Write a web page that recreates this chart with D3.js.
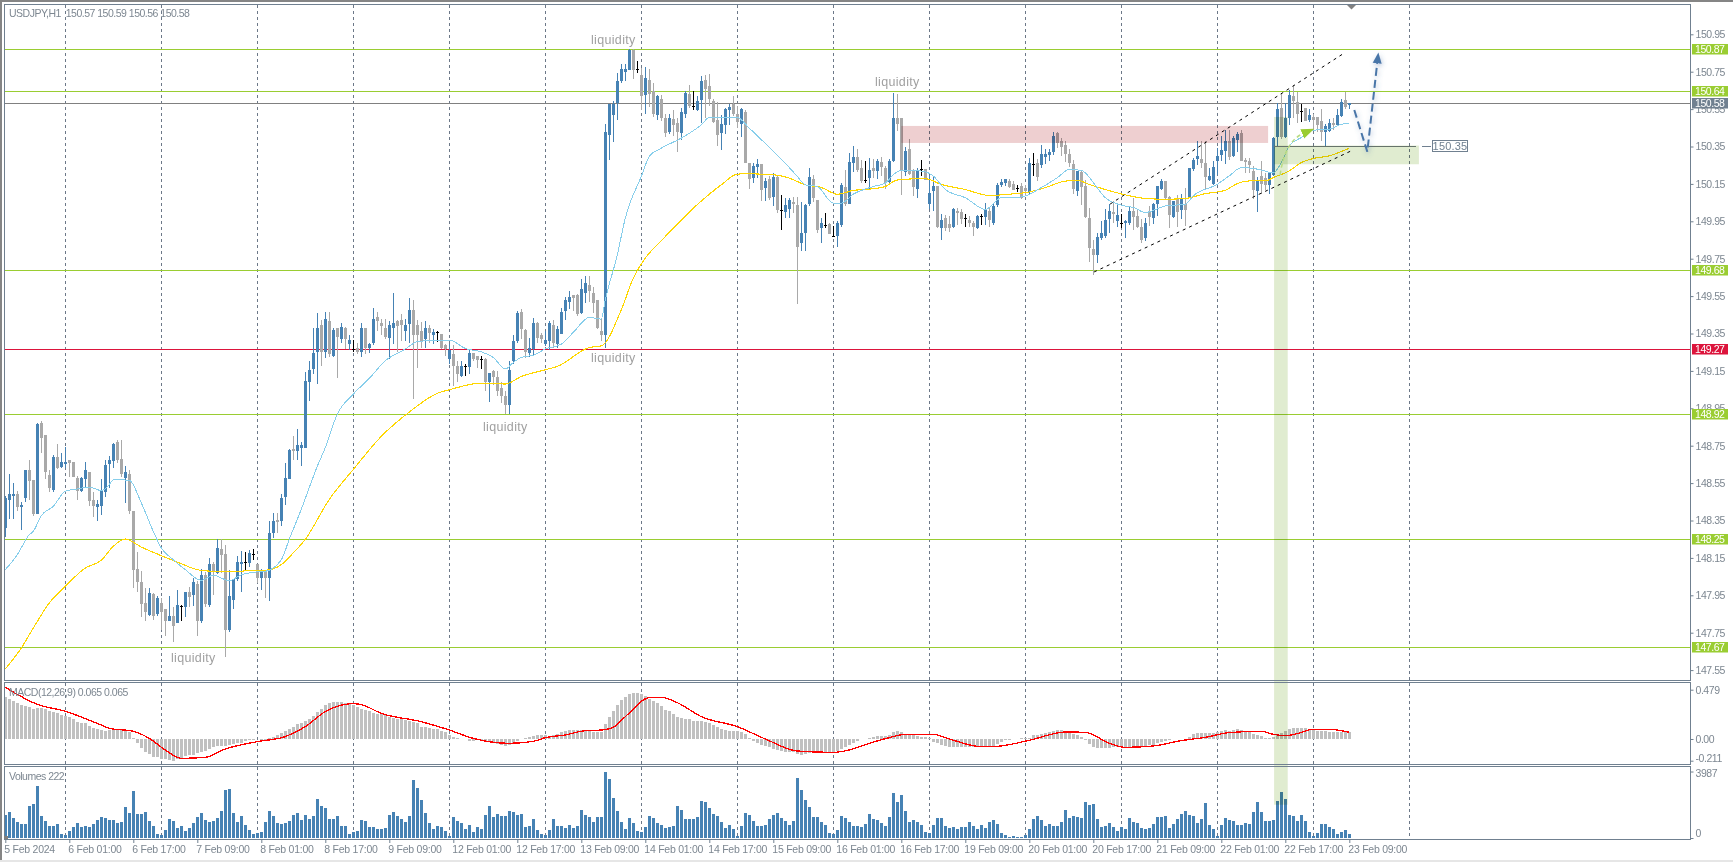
<!DOCTYPE html>
<html><head><meta charset="utf-8">
<script src="https://cdnjs.cloudflare.com/ajax/libs/d3/7.8.5/d3.min.js"></script>
<style>
html,body{margin:0;padding:0;background:#fff;overflow:hidden}
svg{display:block}
text{font-family:"Liberation Sans",Arial,sans-serif}
</style></head><body>
<svg id="c" width="1733" height="862"></svg>
<script>
const opens=[148.31,148.46,148.48,148.49,148.42,148.47,148.62,148.565,148.385,148.87,
148.805,148.595,148.515,148.69,148.635,148.65,148.675,148.665,148.575,148.51,
148.57,148.61,148.46,148.42,148.43,148.50,148.65,148.67,148.77,148.68,
148.575,148.60,148.40,148.09,148.02,147.91,147.845,147.955,147.85,147.91,
147.875,147.81,147.84,147.80,147.893,147.89,147.97,147.95,148.01,147.81,
148.06,147.90,148.115,148.07,148.195,148.17,147.765,147.925,148.035,148.12,
148.127,148.125,148.173,148.115,148.045,148.08,148.045,148.285,148.355,148.35,
148.475,148.57,148.735,148.72,148.74,148.74,149.09,149.16,149.25,149.395,
149.25,149.415,149.23,149.38,149.32,149.38,149.295,149.267,149.275,149.25,
149.38,149.27,149.30,149.44,149.405,149.38,149.325,149.38,149.415,149.42,
149.365,149.40,149.475,149.395,149.365,149.32,149.38,149.34,149.356,149.345,
149.29,149.215,149.24,149.175,149.125,149.177,149.17,149.245,149.23,149.213,
149.215,149.09,149.15,149.12,149.06,149.015,148.965,149.205,149.31,149.465,
149.37,149.245,149.265,149.405,149.34,149.295,149.31,149.395,149.295,149.35,
149.47,149.52,149.555,149.555,149.46,149.565,149.61,149.565,149.53,149.365,
149.34,150.41,150.52,150.58,150.70,150.75,150.76,150.865,150.766,150.735,
150.625,150.705,150.645,150.52,150.605,150.505,150.43,150.495,150.475,150.42,
150.525,150.63,150.564,150.545,150.60,150.705,150.675,150.595,150.49,150.42,
150.465,150.545,150.575,150.525,150.47,150.535,150.26,150.18,150.24,150.255,
150.13,150.175,150.08,150.185,150.012,150.00,150.015,150.055,150.035,149.835,
149.89,150.04,150.175,150.065,149.915,149.931,149.935,149.873,149.87,149.93,
150.135,150.04,150.26,150.295,150.235,150.172,150.18,150.235,150.22,150.265,
150.235,150.16,150.275,150.505,150.505,150.215,150.335,150.22,150.125,150.228,
150.23,150.04,150.11,150.14,149.915,149.965,149.935,149.92,150.005,150.00,
149.965,149.955,149.94,149.915,149.98,149.975,150.005,149.94,150.035,150.145,
150.155,150.165,150.15,150.126,150.14,150.13,150.105,150.254,150.26,150.25,
150.295,150.305,150.32,150.42,150.38,150.36,150.31,150.255,150.11,150.215,
150.14,149.97,149.80,149.77,149.86,149.87,149.96,150.00,149.95,149.942,
149.94,149.94,150.005,149.98,149.92,149.86,150.00,149.965,150.04,150.125,
150.165,150.08,149.975,150.075,150.01,150.045,150.08,150.23,150.285,150.285,
150.26,150.17,150.15,150.275,150.305,150.325,150.38,150.30,150.385,150.42,
150.28,150.275,150.22,150.11,150.19,150.18,150.145,150.195,150.40,150.555,
150.40,150.50,150.62,150.59,150.54,150.555,150.49,150.51,150.51,150.485,
150.43,150.435,150.475,150.465,150.515,150.60,150.57];
const closes=[148.47,148.49,148.49,148.42,148.435,148.62,148.56,148.385,148.865,148.79,
148.61,148.525,148.69,148.63,148.665,148.665,148.66,148.58,148.51,148.575,
148.62,148.455,148.425,148.44,148.515,148.645,148.675,148.76,148.675,148.60,
148.61,148.40,148.085,148.02,147.905,147.86,147.96,147.84,147.935,147.86,
147.81,147.84,147.785,147.90,147.893,147.965,147.94,148.02,147.81,148.06,
147.905,148.115,148.08,148.205,148.165,147.765,147.945,148.035,148.13,148.13,
148.127,148.175,148.173,148.045,148.085,148.04,148.285,148.345,148.34,148.47,
148.575,148.725,148.72,148.755,148.755,149.095,149.155,149.245,149.38,149.25,
149.425,149.24,149.37,149.33,149.385,149.32,149.315,149.267,149.25,149.38,
149.275,149.295,149.425,149.415,149.39,149.33,149.395,149.405,149.39,149.395,
149.395,149.475,149.34,149.34,149.31,149.38,149.355,149.36,149.356,149.27,
149.265,149.26,149.175,149.135,149.175,149.177,149.245,149.215,149.21,149.213,
149.09,149.14,149.12,149.045,149.015,148.97,149.155,149.31,149.46,149.375,
149.25,149.27,149.405,149.325,149.32,149.315,149.405,149.30,149.375,149.465,
149.53,149.545,149.54,149.455,149.59,149.62,149.575,149.515,149.38,149.34,
150.425,150.575,150.575,150.70,150.765,150.765,150.865,150.76,150.766,150.62,
150.715,150.63,150.525,150.62,150.50,150.42,150.505,150.465,150.43,150.535,
150.635,150.565,150.564,150.595,150.70,150.66,150.605,150.48,150.41,150.47,
150.55,150.56,150.525,150.48,150.55,150.26,150.175,150.245,150.255,150.12,
150.165,150.075,150.185,150.01,150.012,150.035,150.065,150.04,149.81,149.885,
150.035,150.185,150.075,149.905,149.94,149.931,149.88,149.873,149.94,150.145,
150.04,150.265,150.295,150.225,150.165,150.172,150.225,150.22,150.275,150.24,
150.155,150.275,150.505,150.47,150.22,150.325,150.205,150.135,150.22,150.228,
150.17,150.10,150.14,149.92,149.955,149.915,149.915,150.015,149.995,149.96,
149.965,149.94,149.92,149.98,149.98,150.015,149.955,150.03,150.145,150.16,
150.175,150.135,150.12,150.126,150.075,150.11,150.26,150.254,150.185,150.31,
150.31,150.32,150.405,150.37,150.345,150.31,150.26,150.125,150.22,150.135,
149.975,149.805,149.77,149.865,149.885,149.955,150.005,149.99,149.985,149.942,
149.95,150.005,149.975,149.92,149.85,149.94,149.975,150.045,150.14,150.165,
150.075,149.985,150.06,150.00,150.075,150.01,150.235,150.28,150.30,150.26,
150.185,150.19,150.24,150.30,150.33,150.38,150.295,150.395,150.415,150.275,
150.265,150.25,150.12,150.165,150.15,150.145,150.21,150.395,150.55,150.40,
150.50,150.625,150.595,150.525,150.54,150.485,150.52,150.49,150.465,150.43,
150.46,150.475,150.465,150.52,150.59,150.56,150.58];
const highs=[148.48,148.60,148.55,148.51,148.45,148.62,148.675,148.565,148.87,148.88,
148.805,148.62,148.70,148.76,148.71,148.745,148.675,148.665,148.59,148.585,
148.665,148.61,148.505,148.46,148.57,148.675,148.695,148.765,148.78,148.78,
148.64,148.62,148.40,148.18,148.08,147.99,147.99,147.96,147.945,147.935,
147.875,147.945,147.89,147.98,147.90,147.965,147.995,148.04,148.025,148.09,
148.075,148.15,148.13,148.25,148.25,148.22,148.085,148.035,148.16,148.185,
148.184,148.19,148.195,148.115,148.09,148.085,148.35,148.39,148.39,148.49,
148.66,148.73,148.80,148.84,148.77,149.145,149.205,149.38,149.46,149.42,
149.465,149.465,149.38,149.38,149.405,149.385,149.34,149.316,149.30,149.405,
149.38,149.30,149.485,149.465,149.425,149.425,149.415,149.565,149.42,149.455,
149.43,149.54,149.53,149.42,149.41,149.415,149.395,149.375,149.365,149.345,
149.295,149.295,149.29,149.205,149.205,149.186,149.26,149.245,149.23,149.231,
149.22,149.14,149.155,149.15,149.09,149.045,149.205,149.34,149.47,149.48,
149.375,149.325,149.435,149.41,149.355,149.365,149.415,149.42,149.39,149.485,
149.545,149.575,149.555,149.56,149.64,149.655,149.66,149.60,149.53,149.43,
150.47,150.575,150.595,150.745,150.79,150.79,150.87,150.87,150.805,150.77,
150.775,150.765,150.69,150.625,150.625,150.525,150.525,150.545,150.50,150.555,
150.645,150.68,150.645,150.62,150.725,150.735,150.74,150.605,150.59,150.52,
150.555,150.575,150.62,150.565,150.555,150.545,150.26,150.26,150.285,150.255,
150.18,150.19,150.21,150.20,150.092,150.075,150.075,150.08,150.08,150.055,
150.04,150.235,150.20,150.065,149.965,149.997,149.94,149.926,149.95,150.155,
150.225,150.315,150.355,150.335,150.28,150.274,150.29,150.285,150.285,150.295,
150.245,150.285,150.635,150.63,150.505,150.35,150.39,150.23,150.235,150.276,
150.23,150.20,150.185,150.14,149.99,149.985,149.98,150.02,150.02,150.015,
149.987,149.98,149.95,149.985,149.99,150.05,150.02,150.045,150.155,150.175,
150.175,150.175,150.165,150.142,150.155,150.145,150.29,150.317,150.285,150.36,
150.335,150.335,150.425,150.425,150.395,150.38,150.335,150.28,150.22,150.22,
150.17,150.02,149.85,149.89,149.95,150.015,150.04,150.06,150.04,149.987,
149.955,150.03,150.075,150.015,149.96,149.97,150.03,150.05,150.14,150.175,
150.165,150.085,150.06,150.09,150.095,150.13,150.235,150.29,150.38,150.38,
150.38,150.235,150.275,150.34,150.405,150.44,150.44,150.405,150.425,150.44,
150.29,150.29,150.245,150.185,150.275,150.21,150.21,150.40,150.585,150.63,
150.585,150.65,150.68,150.64,150.576,150.555,150.55,150.525,150.51,150.55,
150.47,150.495,150.50,150.55,150.605,150.64,150.585];
const lows=[148.26,148.36,148.36,148.40,148.30,148.45,148.46,148.375,148.385,148.71,
148.57,148.50,148.50,148.625,148.63,148.63,148.585,148.58,148.46,148.50,
148.53,148.43,148.37,148.35,148.38,148.475,148.525,148.63,148.66,148.58,
148.445,148.385,147.99,147.965,147.835,147.81,147.84,147.82,147.84,147.765,
147.73,147.81,147.70,147.80,147.81,147.835,147.89,147.895,147.735,147.80,
147.89,147.89,147.95,148.065,148.07,147.62,147.755,147.875,148.025,147.97,
148.087,148.10,148.14,148.015,147.98,147.935,147.92,148.255,148.285,148.32,
148.435,148.57,148.675,148.675,148.64,148.74,148.99,149.135,149.08,149.175,
149.22,149.225,149.225,149.11,149.30,149.265,149.26,149.252,149.24,149.225,
149.24,149.245,149.29,149.365,149.34,149.32,149.215,149.295,149.25,149.31,
149.31,149.30,149.00,149.165,149.275,149.27,149.30,149.295,149.306,149.265,
149.23,149.185,149.07,149.09,149.12,149.124,149.135,149.205,149.165,149.16,
149.045,148.985,149.075,149.015,148.98,148.92,148.92,149.185,149.30,149.32,
149.22,149.225,149.235,149.30,149.30,149.285,149.26,149.275,149.275,149.345,
149.42,149.48,149.47,149.445,149.455,149.515,149.52,149.46,149.375,149.31,
149.275,150.28,150.375,150.49,150.69,150.70,150.76,150.71,150.742,150.545,
150.525,150.56,150.51,150.49,150.485,150.40,150.415,150.405,150.32,150.385,
150.50,150.555,150.547,150.54,150.475,150.50,150.565,150.475,150.355,150.33,
150.415,150.465,150.515,150.45,150.40,150.26,150.125,150.155,150.18,150.06,
150.06,150.065,150.03,149.995,149.903,149.97,149.97,149.995,149.51,149.79,
149.79,150.03,150.055,149.885,149.835,149.914,149.88,149.869,149.81,149.92,
150.03,150.04,150.215,150.215,150.155,150.155,150.125,150.18,150.175,150.19,
150.125,150.145,150.265,150.435,150.09,150.19,150.20,150.085,150.075,150.192,
150.17,150.015,150.005,149.915,149.85,149.90,149.895,149.915,149.93,149.935,
149.919,149.92,149.87,149.91,149.93,149.93,149.92,149.93,150.025,150.135,
150.14,150.13,150.115,150.108,150.07,150.085,150.095,150.19,150.165,150.235,
150.255,150.27,150.305,150.34,150.30,150.265,150.24,150.095,150.085,150.035,
149.965,149.735,149.665,149.725,149.85,149.86,149.89,149.94,149.92,149.912,
149.86,149.93,149.905,149.915,149.835,149.845,149.925,149.935,149.98,150.115,
150.07,149.915,149.97,149.92,149.96,149.925,150.075,150.22,150.25,150.235,
150.12,150.165,150.145,150.195,150.275,150.255,150.28,150.295,150.32,150.275,
150.21,150.21,150.07,150.00,150.095,150.12,150.095,150.19,150.355,150.39,
150.395,150.465,150.50,150.475,150.482,150.485,150.48,150.435,150.425,150.38,
150.355,150.43,150.44,150.465,150.51,150.55,150.55];
const volumes=[1380,1560,1200,980,840,840,1920,2040,3120,1320,
1020,720,720,840,240,180,420,660,900,660,
720,660,840,1080,1260,1200,1080,1080,900,960,
1860,1500,2820,1440,1440,1560,1020,720,240,180,
480,1140,1020,600,720,420,600,900,1260,1500,
1080,960,1020,1200,1620,2880,2940,1500,960,1320,
780,480,240,300,360,960,1620,1320,900,840,
900,1020,1380,1500,1080,1380,1140,1320,2340,1920,
1800,1140,1140,1320,720,720,240,360,420,1080,
1020,660,660,540,540,600,1380,1560,1320,1140,
960,1320,3480,3000,2280,1500,900,540,720,660,
420,120,1260,1020,900,540,780,360,660,540,
1380,1920,1260,1440,1320,1320,1620,1560,1380,1440,
660,720,1140,480,240,180,480,1140,720,720,
600,780,600,720,1680,1380,1260,960,1260,1260,
3987,3540,2400,1620,960,540,1200,900,420,360,
660,1320,1200,900,780,600,660,720,1920,1680,
1140,1140,1140,1260,2220,2160,1800,1440,1320,960,
600,780,540,120,720,1500,1380,1020,720,720,
780,1140,1380,1500,1200,1020,780,1020,3600,2880,
2280,1860,1260,1260,960,780,300,240,480,1320,
1200,960,720,720,660,840,1440,1140,1080,900,
720,1260,2700,2160,2580,1620,960,1080,960,780,
360,300,780,1200,1200,720,600,660,540,660,
660,960,720,540,780,600,960,1080,840,300,
180,60,120,60,60,180,540,1140,1320,1080,
720,840,720,720,960,1680,1200,1320,1260,1200,
2160,1980,2040,1140,660,720,900,660,420,660,
540,1200,960,900,600,540,600,840,1260,1260,
1320,600,840,1140,1440,1620,1380,1320,900,1140,
2100,780,540,120,780,1200,1080,1020,780,780,
900,840,1560,2160,1560,1020,1020,1080,2220,2760,
2340,1380,1320,1020,1380,1020,360,120,300,840,
840,660,540,240,360,480,222];
const macdHist=[.405,.386,.373,.353,.330,.321,.308,.292,.298,.301,
.292,.275,.266,.249,.237,.224,.217,.191,.168,.159,
.152,.130,.107,.094,.087,.081,.087,.087,.091,.087,
.081,.068,.013,-.042,-.084,-.123,-.146,-.172,-.178,-.191,
-.198,-.204,-.211,-.198,-.181,-.165,-.156,-.152,-.139,-.126,
-.117,-.094,-.081,-.068,-.068,-.068,-.062,-.049,-.042,-.036,
-.023,-.013,-.010,-.003,-.010,-.010,.006,.023,.039,.055,
.078,.094,.113,.146,.159,.175,.191,.224,.259,.292,
.334,.353,.360,.360,.356,.353,.350,.334,.308,.288,
.282,.275,.256,.246,.240,.233,.217,.207,.198,.191,
.185,.175,.168,.152,.120,.113,.107,.100,.094,.081,
.065,.039,.023,.006,.001,-.003,-.016,-.019,-.006,-.016,
-.023,-.032,-.042,-.049,-.058,-.071,-.062,-.036,-.016,.001,
.010,.023,.029,.036,.036,.036,.029,.039,.052,.065,
.081,.084,.087,.087,.087,.081,.081,.068,.068,.071,
.146,.214,.275,.330,.376,.411,.437,.447,.447,.434,
.418,.392,.369,.347,.321,.282,.269,.243,.214,.204,
.198,.191,.178,.175,.172,.165,.152,.133,.113,.097,
.087,.081,.075,.075,.068,.049,.006,-.019,-.036,-.055,
-.068,-.081,-.094,-.107,-.117,-.123,-.126,-.130,-.143,-.152,
-.146,-.139,-.130,-.130,-.130,-.130,-.130,-.130,-.117,-.094,
-.075,-.055,-.036,-.016,-.003,-.003,.006,.016,.029,.029,
.029,.039,.068,.075,.068,.049,.039,.036,.029,.023,
.016,.006,-.026,-.042,-.058,-.068,-.075,-.075,-.078,-.081,
-.081,-.081,-.078,-.078,-.071,-.071,-.071,-.071,-.049,-.029,
-.010,-.006,-.003,.003,.006,.010,.010,.036,.042,.049,
.055,.068,.078,.084,.087,.078,.065,.049,.042,.023,
-.010,-.049,-.075,-.087,-.087,-.084,-.084,-.081,-.081,-.081,
-.078,-.081,-.075,-.075,-.075,-.068,-.062,-.055,-.039,-.026,
-.019,-.010,-.003,-.003,-.003,.003,.023,.045,.055,.062,
.062,.055,.062,.068,.078,.084,.081,.091,.094,.084,
.081,.078,.049,.042,.029,.013,.010,.023,.039,.055,
.075,.094,.104,.107,.104,.104,.100,.094,.081,.078,
.075,.071,.068,.065,.065,.065,.065];
const macdSignal=[[0,.502],[8,.337],[15,.269],[24,.136],[26,.104],[32,.075],[36,.006],[40,-.107],[44,-.188],[50,-.178],[55,-.097],[63,-.026],[70,.023],[75,.120],[80,.266],[85,.337],[87,.343],[89,.334],[94,.249],[104,.168],[111,.087],[117,.006],[126,-.042],[132,-.023],[135,.013],[140,.039],[145,.081],[149,.087],[152,.113],[155,.217],[161,.402],[164,.405],[168,.353],[174,.217],[183,.120],[190,0],[198,-.117],[207,-.130],[211,-.107],[216,-.042],[221,.013],[225,.045],[232,.045],[236,0],[244,-.075],[248,-.071],[256,-.013],[265,.068],[270,.065],[276,-.042],[280,-.081],[287,-.068],[294,-.016],[300,.016],[306,.062],[314,.075],[317,.045],[320,.032],[323,.052],[327,.094],[331,.094],[336,.065]];
const maFast=[[0,148.087],[3,148.167],[6,148.274],[7,148.292],[9,148.376],[12,148.426],[15,148.506],[18,148.519],[21,148.529],[24,148.51],[26,148.542],[27,148.569],[31,148.565],[34,148.444],[37,148.292],[39,148.203],[42,148.14],[45,148.087],[49,148.03],[52,148.057],[56,148.028],[59,148.06],[62,148.073],[65,148.078],[69,148.14],[71,148.25],[74,148.41],[78,148.64],[80,148.74],[83,148.919],[87,149.026],[91,149.11],[95,149.204],[100,149.267],[103,149.306],[108,149.315],[111,149.315],[115,149.27],[119,149.252],[122,149.222],[125,149.16],[127,149.195],[129,149.222],[132,149.234],[135,149.267],[139,149.293],[142,149.356],[146,149.436],[149,149.427],[150,149.53],[153,149.77],[155,149.967],[159,150.19],[161,150.297],[164,150.341],[169,150.395],[174,150.466],[176,150.505],[183,150.505],[186,150.448],[191,150.345],[195,150.261],[198,150.19],[200,150.145],[203,150.136],[207,150.047],[209,150.047],[212,150.095],[217,150.136],[220,150.154],[222,150.199],[224,150.222],[229,150.219],[232,150.192],[235,150.12],[240,150.076],[245,150.014],[249,150.076],[254,150.08],[259,150.13],[263,150.183],[266,150.227],[269,150.222],[273,150.129],[275,150.076],[280,150.031],[282,150.024],[285,149.997],[290,150.032],[295,150.041],[297,150.086],[303,150.148],[306,150.193],[309,150.237],[313,150.229],[317,150.21],[319,150.264],[321,150.353],[324,150.398],[327,150.437],[331,150.442],[334,150.469],[336,150.473]];
const maSlow=[[0,147.556],[4,147.668],[7,147.775],[11,147.909],[15,147.998],[20,148.096],[24,148.137],[27,148.212],[30,148.251],[34,148.208],[39,148.162],[44,148.119],[48,148.087],[52,148.078],[57,148.075],[62,148.084],[65,148.084],[69,148.114],[71,148.155],[75,148.249],[81,148.463],[87,148.623],[94,148.80],[101,148.93],[108,149.03],[111,149.049],[119,149.085],[125,149.08],[129,149.12],[135,149.156],[138,149.174],[146,149.275],[149,149.284],[154,149.477],[157,149.646],[160,149.753],[164,149.846],[168,149.935],[172,150.02],[176,150.095],[179,150.145],[183,150.202],[185,150.204],[192,150.199],[196,150.181],[200,150.145],[204,150.131],[208,150.095],[212,150.115],[216,150.122],[220,150.136],[222,150.163],[224,150.174],[230,150.178],[234,150.147],[240,150.12],[246,150.088],[252,150.097],[255,150.103],[260,150.13],[265,150.165],[268,150.169],[271,150.147],[275,150.12],[282,150.082],[285,150.072],[290,150.068],[295,150.072],[300,150.098],[305,150.116],[308,150.152],[311,150.166],[315,150.166],[317,150.184],[321,150.22],[324,150.264],[327,150.286],[331,150.3],[334,150.323],[336,150.341]];
const priceTicks=[150.95,150.75,150.55,150.35,150.15,149.95,149.75,149.55,149.35,149.15,148.95,148.75,148.55,148.35,148.15,147.95,147.75,147.55];
const greenLevels=[150.869,150.644,149.687,148.917,148.248,147.671];
const greenLabels=["150.87","150.64","149.68","148.92","148.25","147.67"];
const redLevel=149.264, redLabel="149.27", bidLevel=150.58, bidLabel="150.58";
const timeLabels=["5 Feb 2024","6 Feb 01:00","6 Feb 17:00","7 Feb 09:00","8 Feb 01:00","8 Feb 17:00","9 Feb 09:00","12 Feb 01:00","12 Feb 17:00","13 Feb 09:00","14 Feb 01:00","14 Feb 17:00","15 Feb 09:00","16 Feb 01:00","16 Feb 17:00","19 Feb 09:00","20 Feb 01:00","20 Feb 17:00","21 Feb 09:00","22 Feb 01:00","22 Feb 17:00","23 Feb 09:00"];
const gridBars=d3.range(15,352,24);
const liquidity=[[152,150.92],[223,150.695],[152,149.22],[125,148.85],[47,147.615]];
const channelUpper=[[276.2,150.042],[334.9,150.852]];
const channelLower=[[272.2,149.679],[336.7,150.329]];
const blueArrow=[[337.25,150.545],[340.5,150.322],[343,150.80]];
const greenArrow=[[318.7,150.198],[319.9,150.38],[324.7,150.422]];
const supplyZone={x0:224,x1:315.7,top:150.46,bottom:150.369};
const demandBand={x0:317.2,x1:320.6,top:150.508,bottom:146.83};
const demandBox={x0:317.2,x1:353.4,top:150.355,bottom:150.255};
const boxLevel=150.35;

const svg=d3.select("#c");
const W=1733,H=862,L=4.5,R=1690.5;
const x=d3.scaleLinear().domain([0,336]).range([5.3,1349.3]);
const y=d3.scaleLinear().domain([150.95,147.55]).range([34.3,670.1]);
const yM=d3.scaleLinear().domain([.479,-.211]).range([689.7,760.7]);
const yV=d3.scaleLinear().domain([0,4000]).range([838,771.3]);
const px=v=>Math.round(x(v)-.5)+.5;
const lineY=v=>Math.floor(y(v))+.5;
const AXC="#708090", TXC="#7d8791", GRID="#6c7888";

const defs=svg.append("defs");
defs.append("clipPath").attr("id","main").append("rect").attr("x",L).attr("y",5).attr("width",R-L).attr("height",675);
defs.append("clipPath").attr("id","macd").append("rect").attr("x",L).attr("y",683).attr("width",R-L).attr("height",81);
const shadow=defs.append("filter").attr("id","sh").attr("x","-60%").attr("y","-20%").attr("width","220%").attr("height","140%");
shadow.append("feDropShadow").attr("dx",1).attr("dy",2).attr("stdDeviation",2.5).attr("flood-color","#4a6fa5").attr("flood-opacity",.4);
defs.append("marker").attr("id","ab").attr("markerUnits","userSpaceOnUse").attr("markerWidth",12).attr("markerHeight",14).attr("refX",1).attr("refY",6).attr("orient","auto")
  .append("path").attr("d","M0,1.5L11,6L0,10.5Z").attr("fill","#4a76a8");
defs.append("marker").attr("id","ag").attr("markerUnits","userSpaceOnUse").attr("markerWidth",14).attr("markerHeight",12).attr("refX",2).attr("refY",6).attr("orient","auto")
  .append("path").attr("d","M0,1L13,6L0,11Z").attr("fill","#9acd32");

// window chrome
svg.append("rect").attr("width",W).attr("height",2).attr("fill","#858585");
svg.append("rect").attr("width",2).attr("height",H).attr("fill","#858585");
svg.append("rect").attr("y",860).attr("width",W).attr("height",2).attr("fill","#e6e6e6");

// grid
svg.append("g").selectAll("line").data(gridBars).join("line")
 .attr("x1",d=>px(d)).attr("x2",d=>px(d)).attr("y1",5).attr("y2",839)
 .attr("stroke",GRID).attr("stroke-dasharray","3,3").attr("stroke-width",1);

// levels
const lv=svg.append("g").attr("clip-path","url(#main)").attr("shape-rendering","crispEdges");
lv.selectAll(".g").data(greenLevels).join("line").attr("x1",L).attr("x2",R).attr("y1",lineY).attr("y2",lineY).attr("stroke","#9acd32").attr("stroke-width",1);
lv.append("line").attr("x1",L).attr("x2",R).attr("y1",lineY(redLevel)).attr("y2",lineY(redLevel)).attr("stroke","#dc143c");
lv.append("line").attr("x1",L).attr("x2",R).attr("y1",lineY(bidLevel)).attr("y2",lineY(bidLevel)).attr("stroke","#808080");

// candles
const n=opens.length, idx=d3.range(n);
const candleCol=i=>closes[i]>opens[i]?"#4682b4":closes[i]<opens[i]?"#a9a9a9":"#000";
const cg=svg.append("g").attr("clip-path","url(#main)").attr("shape-rendering","crispEdges");
cg.selectAll(".w").data(idx).join("line").attr("x1",px).attr("x2",px)
 .attr("y1",i=>y(highs[i])).attr("y2",i=>y(lows[i])).attr("stroke",candleCol).attr("stroke-width",1);
cg.selectAll(".b").data(idx).join("rect").attr("x",i=>px(i)-1.5).attr("width",3)
 .attr("y",i=>Math.min(y(opens[i]),y(closes[i])))
 .attr("height",i=>Math.max(1,Math.abs(y(opens[i])-y(closes[i])))).attr("fill",candleCol);

// moving averages
const ln=d3.line().x(d=>x(d[0])).y(d=>y(d[1]));
const smooth=d3.line().curve(d3.curveMonotoneX).x(d=>x(d[0])).y(d=>y(d[1]));
const mg=svg.append("g").attr("clip-path","url(#main)").attr("fill","none").attr("shape-rendering","crispEdges");
mg.append("path").attr("d",smooth(maSlow)).attr("stroke","#ffd700").attr("stroke-width",1.1);
mg.append("path").attr("d",smooth(maFast)).attr("stroke","#87ceeb").attr("stroke-width",1);

// MACD
svg.append("g").attr("shape-rendering","crispEdges").selectAll("rect").data(idx).join("rect")
 .attr("x",i=>px(i)-1.5).attr("width",3)
 .attr("y",i=>Math.min(yM(0),yM(macdHist[i])))
 .attr("height",i=>Math.abs(yM(0)-yM(macdHist[i]))).attr("fill","#c0c0c0");
svg.append("path").attr("clip-path","url(#macd)").attr("shape-rendering","crispEdges")
 .attr("d",d3.line().curve(d3.curveMonotoneX).x(d=>x(d[0])).y(d=>yM(d[1]))(macdSignal))
 .attr("fill","none").attr("stroke","#ff0000").attr("stroke-width",1.3);

// volumes
svg.append("g").attr("shape-rendering","crispEdges").selectAll("rect").data(idx).join("rect")
 .attr("x",i=>px(i)-1.5).attr("width",3)
 .attr("y",i=>yV(volumes[i])).attr("height",i=>yV(0)-yV(volumes[i])).attr("fill","#4682b4");

// zones (tinting what is under them)
const zone=(z,c)=>svg.append("rect").attr("x",x(z.x0)).attr("width",x(z.x1)-x(z.x0)).attr("y",y(z.top)).attr("height",y(z.bottom)-y(z.top)).attr("fill",c).style("mix-blend-mode","multiply");
zone(supplyZone,"#eecfd0");
zone(demandBand,"#e0ecd0");
zone(demandBox,"#e0ecd0");

// box level + label
const ly=lineY(boxLevel);
svg.append("line").attr("x1",x(demandBox.x0)).attr("x2",x(352.6)).attr("y1",ly).attr("y2",ly).attr("stroke","#66736a").attr("stroke-width",1).attr("shape-rendering","crispEdges");
svg.append("line").attr("x1",1422).attr("x2",1431).attr("y1",ly).attr("y2",ly).attr("stroke","#708090").attr("shape-rendering","crispEdges");
svg.append("rect").attr("x",1432.5).attr("y",140.5).attr("width",35).attr("height",11).attr("fill","#fff").attr("stroke","#708090");
svg.append("text").attr("x",1450).attr("y",150).attr("text-anchor","middle").attr("font-size",11).attr("letter-spacing",.2).attr("fill","#708090").text("150.35");

// channel
svg.append("g").selectAll("path").data([channelUpper,channelLower]).join("path").attr("d",ln)
 .attr("fill","none").attr("stroke","#000").attr("stroke-width",1).attr("stroke-dasharray","3,4");

// arrows
const qp=d3.path(); qp.moveTo(x(greenArrow[0][0]),y(greenArrow[0][1]));
qp.quadraticCurveTo(x(greenArrow[1][0]),y(greenArrow[1][1]),x(greenArrow[2][0]),y(greenArrow[2][1]));
svg.append("path").attr("d",qp.toString()).attr("fill","none").attr("stroke","#b9dc80").attr("stroke-width",1.5).attr("stroke-dasharray","4,3").attr("marker-end","url(#ag)");
svg.append("path").attr("d",ln(blueArrow)).attr("fill","none").attr("stroke","#4a76a8").attr("stroke-width",2).attr("stroke-dasharray","8,4").attr("marker-end","url(#ab)").attr("filter","url(#sh)");

// liquidity labels
svg.append("g").selectAll("text").data(liquidity).join("text")
 .attr("x",d=>x(d[0])).attr("y",d=>y(d[1])+4).attr("text-anchor","middle").attr("font-size",12.5).attr("letter-spacing",.35).attr("fill","#a0a0a0").text("liquidity");

// panel frames
const fr=svg.append("g").attr("fill","none").attr("stroke",AXC).attr("stroke-width",1).attr("shape-rendering","crispEdges");
[[4.5,680.5],[682.5,764.5],[766.5,839.5]].forEach(p=>fr.append("rect").attr("x",L).attr("y",p[0]).attr("width",R-L).attr("height",p[1]-p[0]));

// price axis
const styleAxis=g=>{g.select(".domain").remove();g.selectAll("line").attr("stroke",AXC);
 g.selectAll("text").attr("fill",TXC).attr("font-size",10.5).attr("letter-spacing",-.45).attr("font-family","Liberation Sans");};
svg.append("g").attr("transform",`translate(${R},0)`)
 .call(d3.axisRight(y).tickValues(priceTicks).tickFormat(d3.format(".2f")).tickSize(3).tickPadding(2)).call(styleAxis);

// tags
const tags=[...greenLevels.map((v,k)=>[v,"#9acd32",greenLabels[k]]),[redLevel,"#dc143c",redLabel],[bidLevel,"#708090",bidLabel]];
const tg=svg.append("g").selectAll("g").data(tags).join("g").attr("transform",d=>`translate(1692,${lineY(d[0])-5.5})`);
tg.append("rect").attr("width",36).attr("height",10.5).attr("fill",d=>d[1]);
tg.append("text").attr("x",3).attr("y",9).attr("font-size",10.5).attr("letter-spacing",-.45).attr("fill","#fff").text(d=>d[2]);

// MACD + volume axes
const macdAxisTicks=[.479,0,-.211];
svg.append("g").attr("transform",`translate(${R},0)`)
 .call(d3.axisRight(yM).tickValues(macdAxisTicks).tickFormat(d=>d==0?"0.00":d3.format(".3f")(d).replace("−","-")).tickSize(3).tickPadding(2)).call(styleAxis)
 .call(g=>g.selectAll("text").attr("dy",d=>d==-.211?"0.08em":"0.32em"));
const volAxisTicks=[3987,0];
svg.append("g").attr("transform",`translate(${R},0)`)
 .call(d3.axisRight(yV).tickValues(volAxisTicks).tickSize(3).tickPadding(2).tickFormat(d3.format("d"))).call(styleAxis)
 .call(g=>g.selectAll("text").attr("dy",d=>d==0?"-0.15em":"0.5em"));

// time axis
const labelBars=timeLabels.map((_,k)=>k*16);
const ta=svg.append("g").attr("transform","translate(0,839)")
 .call(d3.axisBottom(x).tickValues(labelBars).tickFormat((d,k)=>timeLabels[k]).tickSize(4).tickPadding(3)).call(styleAxis);
ta.selectAll("text").attr("text-anchor","start").attr("dx",-1.5).attr("letter-spacing",-.25);

// headers
const hdr=(t,yy)=>svg.append("text").attr("x",9).attr("y",yy).attr("font-size",10.5).attr("letter-spacing",-.5).attr("fill",TXC).text(t);
hdr("USDJPY,H1  150.57 150.59 150.56 150.58",16.5).style("white-space","pre");
hdr("MACD(12,26,9) 0.065 0.065",695.5);
hdr("Volumes 222",779.5);

// shift marker + corner
svg.append("path").attr("d",d3.line()([[1347,5],[1356,5],[1351.5,9.5]])+"Z").attr("fill","#808080");
svg.append("rect").attr("x",4).attr("y",836).attr("width",4).attr("height",3).attr("fill","#808080");
</script>
</body></html>
